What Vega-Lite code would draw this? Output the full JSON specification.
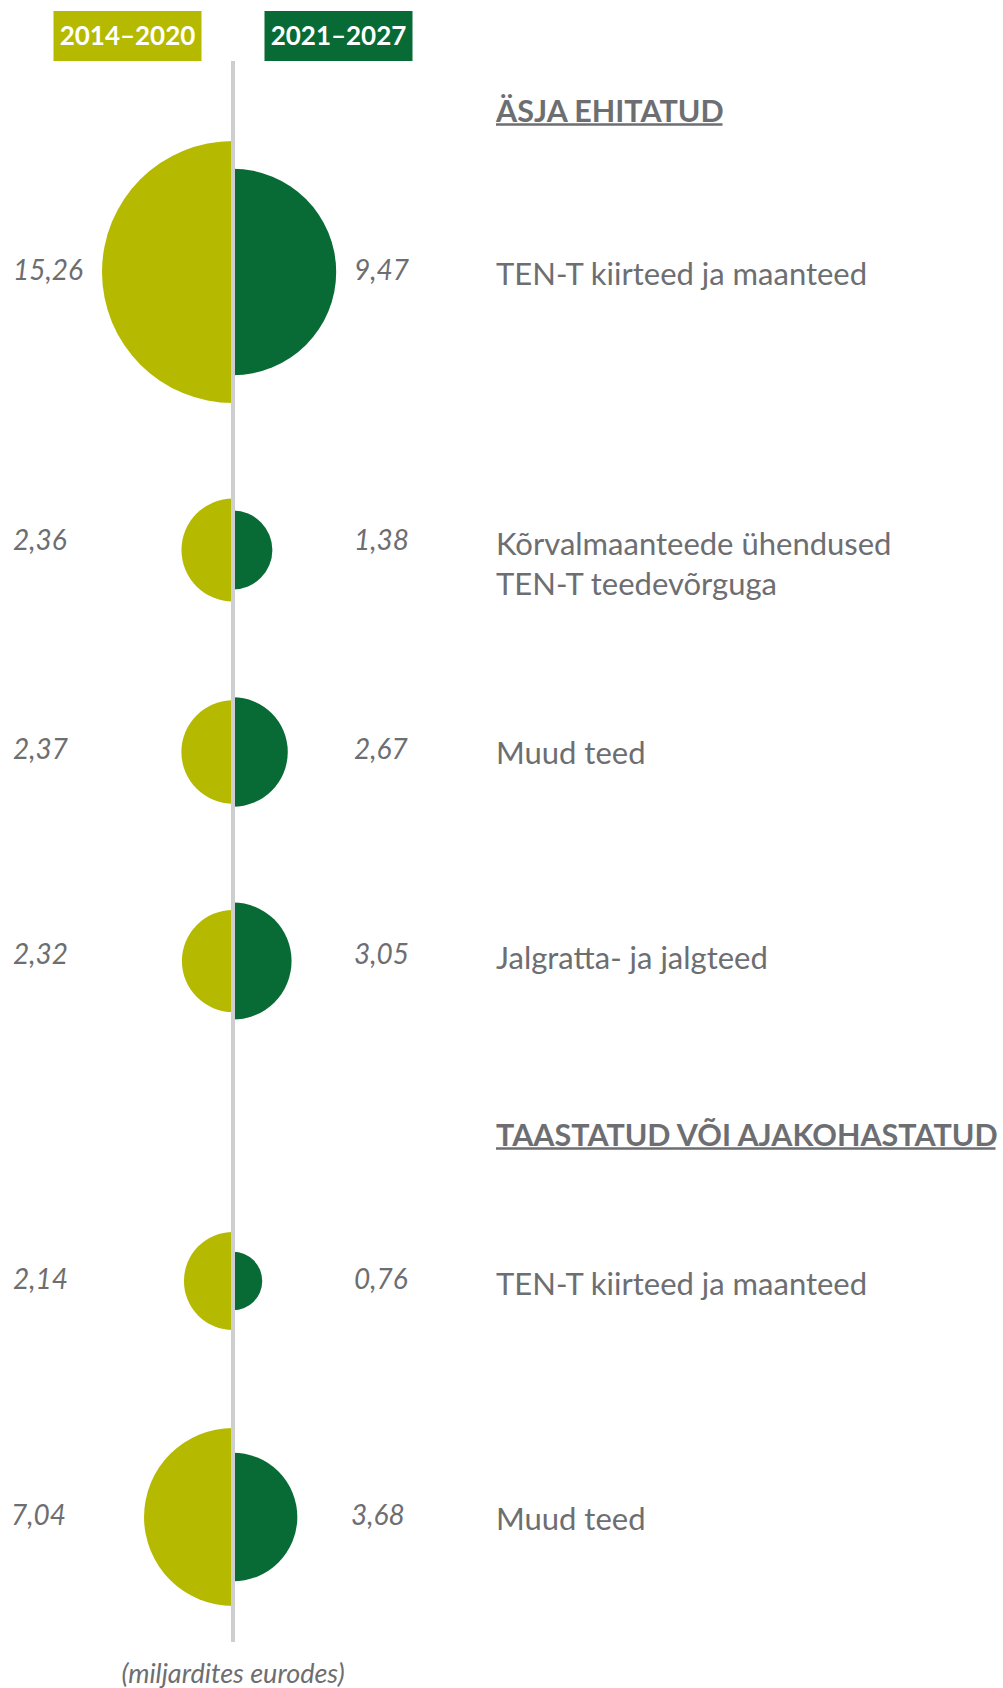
{
  "$schema": "https://vega.github.io/schema/vega-lite/v6.json",
  "background": "white",
  "padding": {"top": 11, "left": 0, "right": 0, "bottom": 0},
  "spacing": 0,
  "bounds": "flush",
  "datasets": {
    "eu": [
      {"section": "ÄSJA EHITATUD", "category": "TEN-T kiirteed ja maanteed", "period": "2014–2020", "value": 15.26},
      {"section": "ÄSJA EHITATUD", "category": "TEN-T kiirteed ja maanteed", "period": "2021–2027", "value": 9.47},
      {"section": "ÄSJA EHITATUD", "category": "Kõrvalmaanteede ühendused\nTEN-T teedevõrguga", "period": "2014–2020", "value": 2.36},
      {"section": "ÄSJA EHITATUD", "category": "Kõrvalmaanteede ühendused\nTEN-T teedevõrguga", "period": "2021–2027", "value": 1.38},
      {"section": "ÄSJA EHITATUD", "category": "Muud teed", "period": "2014–2020", "value": 2.37},
      {"section": "ÄSJA EHITATUD", "category": "Muud teed", "period": "2021–2027", "value": 2.67},
      {"section": "ÄSJA EHITATUD", "category": "Jalgratta- ja jalgteed", "period": "2014–2020", "value": 2.32},
      {"section": "ÄSJA EHITATUD", "category": "Jalgratta- ja jalgteed", "period": "2021–2027", "value": 3.05},
      {"section": "TAASTATUD VÕI AJAKOHASTATUD", "category": "TEN-T kiirteed ja maanteed", "period": "2014–2020", "value": 2.14},
      {"section": "TAASTATUD VÕI AJAKOHASTATUD", "category": "TEN-T kiirteed ja maanteed", "period": "2021–2027", "value": 0.76},
      {"section": "TAASTATUD VÕI AJAKOHASTATUD", "category": "Muud teed", "period": "2014–2020", "value": 7.04},
      {"section": "TAASTATUD VÕI AJAKOHASTATUD", "category": "Muud teed", "period": "2021–2027", "value": 3.68}
    ]
  },
  "data": {"name": "eu"},
  "vconcat": [
    {
      "width": 1003, "height": 50,
      "transform": [{"aggregate": [{"op": "count", "as": "n"}], "groupby": ["period"]}],
      "layer": [
        {"mark": {"type": "bar", "width": 148},
         "encoding": {
           "x": {"field": "period", "type": "nominal", "scale": {"type": "band", "domain": ["2014–2020", "2021–2027"], "range": [22, 444], "paddingInner": 0, "paddingOuter": 0}, "axis": null},
           "color": {"field": "period", "type": "nominal", "scale": {"domain": ["2014–2020", "2021–2027"], "range": ["#b5ba00", "#086a34"]}, "legend": null}}},
        {"mark": {"type": "text", "align": "center", "baseline": "middle", "dy": 1, "font": "Lato", "fontWeight": "bold", "fontSize": 26, "color": "white"},
         "encoding": {
           "x": {"field": "period", "type": "nominal", "scale": {"type": "band", "domain": ["2014–2020", "2021–2027"], "range": [22, 444], "paddingInner": 0, "paddingOuter": 0}, "axis": null},
           "text": {"field": "period"}}}
      ]
    },
    {
      "width": 1003, "height": 79,
      "transform": [{"filter": "datum.section == 'ÄSJA EHITATUD' && datum.period == '2021–2027'"}, {"aggregate": [{"op": "count", "as": "n"}], "groupby": ["section", "period"]}],
      "layer": [
        {"mark": {"type": "text", "align": "left", "baseline": "alphabetic", "dx": 52, "dy": 21.5, "font": "Lato", "fontWeight": "bold", "fontSize": 30.5, "color": "#6d6e71"},
         "encoding": {"x": {"field": "period", "type": "nominal", "bandPosition": 1, "scale": {"type": "band", "domain": ["2014–2020", "2021–2027"], "range": [22, 444], "paddingInner": 0, "paddingOuter": 0}, "axis": null},
           "text": {"field": "section"}}},
        {"mark": {"type": "rule", "color": "#6d6e71", "strokeWidth": 2.5, "xOffset": 52, "x2Offset": 384, "yOffset": 24},
         "encoding": {"x": {"field": "period", "type": "nominal", "bandPosition": 1, "scale": {"type": "band", "domain": ["2014–2020", "2021–2027"], "range": [22, 444], "paddingInner": 0, "paddingOuter": 0}, "axis": null},
           "x2": {"field": "period"}}},
        {"mark": {"type": "rule", "color": "#cdced0", "strokeWidth": 4},
         "encoding": {"x": {"field": "period", "type": "nominal", "bandPosition": 0, "scale": {"type": "band", "domain": ["2014–2020", "2021–2027"], "range": [22, 444], "paddingInner": 0, "paddingOuter": 0}, "axis": null}}}
      ]
    },
    {
      "width": 1003, "height": 264,
      "transform": [{"filter": "datum.section == 'ÄSJA EHITATUD' && datum.category == 'TEN-T kiirteed ja maanteed'"}],
      "layer": [
        {"transform": [{"filter": "datum.period == '2014–2020'"}],
         "mark": {"type": "arc", "theta": 3.14159265, "theta2": 6.28318531},
         "encoding": {"x": {"field": "period", "type": "nominal", "bandPosition": 1, "scale": {"type": "band", "domain": ["2014–2020", "2021–2027"], "range": [22, 444], "paddingInner": 0, "paddingOuter": 0}, "axis": null},
           "radius": {"field": "value", "type": "quantitative", "scale": {"type": "sqrt", "domain": [0, 15.26], "range": [0, 131]}},
           "color": {"field": "period", "type": "nominal", "scale": {"domain": ["2014–2020", "2021–2027"], "range": ["#b5ba00", "#086a34"]}, "legend": null}}},
        {"transform": [{"filter": "datum.period == '2021–2027'"}],
         "mark": {"type": "arc", "theta": 0, "theta2": 3.14159265},
         "encoding": {"x": {"field": "period", "type": "nominal", "bandPosition": 0, "scale": {"type": "band", "domain": ["2014–2020", "2021–2027"], "range": [22, 444], "paddingInner": 0, "paddingOuter": 0}, "axis": null},
           "radius": {"field": "value", "type": "quantitative", "scale": {"type": "sqrt", "domain": [0, 15.26], "range": [0, 131]}},
           "color": {"field": "period", "type": "nominal", "scale": {"domain": ["2014–2020", "2021–2027"], "range": ["#b5ba00", "#086a34"]}, "legend": null}}},
        {"transform": [{"filter": "datum.period == '2014–2020'"}],
         "mark": {"type": "text", "align": "left", "baseline": "middle", "dx": -9, "dy": 0, "font": "Lato", "fontStyle": "italic", "fontSize": 28, "color": "#6d6e71"},
         "encoding": {"x": {"field": "period", "type": "nominal", "bandPosition": 0, "scale": {"type": "band", "domain": ["2014–2020", "2021–2027"], "range": [22, 444], "paddingInner": 0, "paddingOuter": 0}, "axis": null},
           "text": {"field": "value", "type": "quantitative", "format": ".2f"}}},
        {"transform": [{"filter": "datum.period == '2021–2027'"}],
         "mark": {"type": "text", "align": "left", "baseline": "middle", "dx": 121, "dy": 0, "font": "Lato", "fontStyle": "italic", "fontSize": 28, "color": "#6d6e71"},
         "encoding": {"x": {"field": "period", "type": "nominal", "bandPosition": 0, "scale": {"type": "band", "domain": ["2014–2020", "2021–2027"], "range": [22, 444], "paddingInner": 0, "paddingOuter": 0}, "axis": null},
           "text": {"field": "value", "type": "quantitative", "format": ".2f"}}},
        {"transform": [{"filter": "datum.period == '2021–2027'"}],
         "mark": {"type": "text", "align": "left", "baseline": "middle", "dx": 52, "dy": 4, "lineBreak": "\n", "lineHeight": 40, "font": "Lato", "fontSize": 31, "color": "#6d6e71"},
         "encoding": {"x": {"field": "period", "type": "nominal", "bandPosition": 1, "scale": {"type": "band", "domain": ["2014–2020", "2021–2027"], "range": [22, 444], "paddingInner": 0, "paddingOuter": 0}, "axis": null},
           "text": {"field": "category"}}},
        {"transform": [{"filter": "datum.period == '2021–2027'"}],
         "mark": {"type": "rule", "color": "#cdced0", "strokeWidth": 4},
         "encoding": {"x": {"field": "period", "type": "nominal", "bandPosition": 0, "scale": {"type": "band", "domain": ["2014–2020", "2021–2027"], "range": [22, 444], "paddingInner": 0, "paddingOuter": 0}, "axis": null}}}
      ]
    },
    {
      "width": 1003, "height": 292,
      "transform": [{"filter": "datum.section == 'ÄSJA EHITATUD' && indexof(datum.category, 'Kõrvalmaanteede') == 0"}],
      "layer": [
        {"transform": [{"filter": "datum.period == '2014–2020'"}],
         "mark": {"type": "arc", "theta": 3.14159265, "theta2": 6.28318531},
         "encoding": {"x": {"field": "period", "type": "nominal", "bandPosition": 1, "scale": {"type": "band", "domain": ["2014–2020", "2021–2027"], "range": [22, 444], "paddingInner": 0, "paddingOuter": 0}, "axis": null},
           "radius": {"field": "value", "type": "quantitative", "scale": {"type": "sqrt", "domain": [0, 15.26], "range": [0, 131]}},
           "color": {"field": "period", "type": "nominal", "scale": {"domain": ["2014–2020", "2021–2027"], "range": ["#b5ba00", "#086a34"]}, "legend": null}}},
        {"transform": [{"filter": "datum.period == '2021–2027'"}],
         "mark": {"type": "arc", "theta": 0, "theta2": 3.14159265},
         "encoding": {"x": {"field": "period", "type": "nominal", "bandPosition": 0, "scale": {"type": "band", "domain": ["2014–2020", "2021–2027"], "range": [22, 444], "paddingInner": 0, "paddingOuter": 0}, "axis": null},
           "radius": {"field": "value", "type": "quantitative", "scale": {"type": "sqrt", "domain": [0, 15.26], "range": [0, 131]}},
           "color": {"field": "period", "type": "nominal", "scale": {"domain": ["2014–2020", "2021–2027"], "range": ["#b5ba00", "#086a34"]}, "legend": null}}},
        {"transform": [{"filter": "datum.period == '2014–2020'"}],
         "mark": {"type": "text", "align": "left", "baseline": "middle", "dx": -9, "dy": -8, "font": "Lato", "fontStyle": "italic", "fontSize": 28, "color": "#6d6e71"},
         "encoding": {"x": {"field": "period", "type": "nominal", "bandPosition": 0, "scale": {"type": "band", "domain": ["2014–2020", "2021–2027"], "range": [22, 444], "paddingInner": 0, "paddingOuter": 0}, "axis": null},
           "text": {"field": "value", "type": "quantitative", "format": ".2f"}}},
        {"transform": [{"filter": "datum.period == '2021–2027'"}],
         "mark": {"type": "text", "align": "left", "baseline": "middle", "dx": 121, "dy": -8, "font": "Lato", "fontStyle": "italic", "fontSize": 28, "color": "#6d6e71"},
         "encoding": {"x": {"field": "period", "type": "nominal", "bandPosition": 0, "scale": {"type": "band", "domain": ["2014–2020", "2021–2027"], "range": [22, 444], "paddingInner": 0, "paddingOuter": 0}, "axis": null},
           "text": {"field": "value", "type": "quantitative", "format": ".2f"}}},
        {"transform": [{"filter": "datum.period == '2021–2027'"}],
         "mark": {"type": "text", "align": "left", "baseline": "middle", "dx": 52, "dy": -4, "lineBreak": "\n", "lineHeight": 40, "font": "Lato", "fontSize": 31, "color": "#6d6e71"},
         "encoding": {"x": {"field": "period", "type": "nominal", "bandPosition": 1, "scale": {"type": "band", "domain": ["2014–2020", "2021–2027"], "range": [22, 444], "paddingInner": 0, "paddingOuter": 0}, "axis": null},
           "text": {"field": "category"}}},
        {"transform": [{"filter": "datum.period == '2021–2027'"}],
         "mark": {"type": "rule", "color": "#cdced0", "strokeWidth": 4},
         "encoding": {"x": {"field": "period", "type": "nominal", "bandPosition": 0, "scale": {"type": "band", "domain": ["2014–2020", "2021–2027"], "range": [22, 444], "paddingInner": 0, "paddingOuter": 0}, "axis": null}}}
      ]
    },
    {
      "width": 1003, "height": 112,
      "transform": [{"filter": "datum.section == 'ÄSJA EHITATUD' && datum.category == 'Muud teed'"}],
      "layer": [
        {"transform": [{"filter": "datum.period == '2014–2020'"}],
         "mark": {"type": "arc", "theta": 3.14159265, "theta2": 6.28318531},
         "encoding": {"x": {"field": "period", "type": "nominal", "bandPosition": 1, "scale": {"type": "band", "domain": ["2014–2020", "2021–2027"], "range": [22, 444], "paddingInner": 0, "paddingOuter": 0}, "axis": null},
           "radius": {"field": "value", "type": "quantitative", "scale": {"type": "sqrt", "domain": [0, 15.26], "range": [0, 131]}},
           "color": {"field": "period", "type": "nominal", "scale": {"domain": ["2014–2020", "2021–2027"], "range": ["#b5ba00", "#086a34"]}, "legend": null}}},
        {"transform": [{"filter": "datum.period == '2021–2027'"}],
         "mark": {"type": "arc", "theta": 0, "theta2": 3.14159265},
         "encoding": {"x": {"field": "period", "type": "nominal", "bandPosition": 0, "scale": {"type": "band", "domain": ["2014–2020", "2021–2027"], "range": [22, 444], "paddingInner": 0, "paddingOuter": 0}, "axis": null},
           "radius": {"field": "value", "type": "quantitative", "scale": {"type": "sqrt", "domain": [0, 15.26], "range": [0, 131]}},
           "color": {"field": "period", "type": "nominal", "scale": {"domain": ["2014–2020", "2021–2027"], "range": ["#b5ba00", "#086a34"]}, "legend": null}}},
        {"transform": [{"filter": "datum.period == '2014–2020'"}],
         "mark": {"type": "text", "align": "left", "baseline": "middle", "dx": -9, "dy": -1, "font": "Lato", "fontStyle": "italic", "fontSize": 28, "color": "#6d6e71"},
         "encoding": {"x": {"field": "period", "type": "nominal", "bandPosition": 0, "scale": {"type": "band", "domain": ["2014–2020", "2021–2027"], "range": [22, 444], "paddingInner": 0, "paddingOuter": 0}, "axis": null},
           "text": {"field": "value", "type": "quantitative", "format": ".2f"}}},
        {"transform": [{"filter": "datum.period == '2021–2027'"}],
         "mark": {"type": "text", "align": "left", "baseline": "middle", "dx": 121, "dy": -1, "font": "Lato", "fontStyle": "italic", "fontSize": 28, "color": "#6d6e71"},
         "encoding": {"x": {"field": "period", "type": "nominal", "bandPosition": 0, "scale": {"type": "band", "domain": ["2014–2020", "2021–2027"], "range": [22, 444], "paddingInner": 0, "paddingOuter": 0}, "axis": null},
           "text": {"field": "value", "type": "quantitative", "format": ".2f"}}},
        {"transform": [{"filter": "datum.period == '2021–2027'"}],
         "mark": {"type": "text", "align": "left", "baseline": "middle", "dx": 52, "dy": 3, "lineBreak": "\n", "lineHeight": 40, "font": "Lato", "fontSize": 31, "color": "#6d6e71"},
         "encoding": {"x": {"field": "period", "type": "nominal", "bandPosition": 1, "scale": {"type": "band", "domain": ["2014–2020", "2021–2027"], "range": [22, 444], "paddingInner": 0, "paddingOuter": 0}, "axis": null},
           "text": {"field": "category"}}},
        {"transform": [{"filter": "datum.period == '2021–2027'"}],
         "mark": {"type": "rule", "color": "#cdced0", "strokeWidth": 4},
         "encoding": {"x": {"field": "period", "type": "nominal", "bandPosition": 0, "scale": {"type": "band", "domain": ["2014–2020", "2021–2027"], "range": [22, 444], "paddingInner": 0, "paddingOuter": 0}, "axis": null}}}
      ]
    },
    {
      "width": 1003, "height": 306,
      "transform": [{"filter": "datum.section == 'ÄSJA EHITATUD' && datum.category == 'Jalgratta- ja jalgteed'"}],
      "layer": [
        {"transform": [{"filter": "datum.period == '2014–2020'"}],
         "mark": {"type": "arc", "theta": 3.14159265, "theta2": 6.28318531},
         "encoding": {"x": {"field": "period", "type": "nominal", "bandPosition": 1, "scale": {"type": "band", "domain": ["2014–2020", "2021–2027"], "range": [22, 444], "paddingInner": 0, "paddingOuter": 0}, "axis": null},
           "radius": {"field": "value", "type": "quantitative", "scale": {"type": "sqrt", "domain": [0, 15.26], "range": [0, 131]}},
           "color": {"field": "period", "type": "nominal", "scale": {"domain": ["2014–2020", "2021–2027"], "range": ["#b5ba00", "#086a34"]}, "legend": null}}},
        {"transform": [{"filter": "datum.period == '2021–2027'"}],
         "mark": {"type": "arc", "theta": 0, "theta2": 3.14159265},
         "encoding": {"x": {"field": "period", "type": "nominal", "bandPosition": 0, "scale": {"type": "band", "domain": ["2014–2020", "2021–2027"], "range": [22, 444], "paddingInner": 0, "paddingOuter": 0}, "axis": null},
           "radius": {"field": "value", "type": "quantitative", "scale": {"type": "sqrt", "domain": [0, 15.26], "range": [0, 131]}},
           "color": {"field": "period", "type": "nominal", "scale": {"domain": ["2014–2020", "2021–2027"], "range": ["#b5ba00", "#086a34"]}, "legend": null}}},
        {"transform": [{"filter": "datum.period == '2014–2020'"}],
         "mark": {"type": "text", "align": "left", "baseline": "middle", "dx": -9, "dy": -5, "font": "Lato", "fontStyle": "italic", "fontSize": 28, "color": "#6d6e71"},
         "encoding": {"x": {"field": "period", "type": "nominal", "bandPosition": 0, "scale": {"type": "band", "domain": ["2014–2020", "2021–2027"], "range": [22, 444], "paddingInner": 0, "paddingOuter": 0}, "axis": null},
           "text": {"field": "value", "type": "quantitative", "format": ".2f"}}},
        {"transform": [{"filter": "datum.period == '2021–2027'"}],
         "mark": {"type": "text", "align": "left", "baseline": "middle", "dx": 121, "dy": -5, "font": "Lato", "fontStyle": "italic", "fontSize": 28, "color": "#6d6e71"},
         "encoding": {"x": {"field": "period", "type": "nominal", "bandPosition": 0, "scale": {"type": "band", "domain": ["2014–2020", "2021–2027"], "range": [22, 444], "paddingInner": 0, "paddingOuter": 0}, "axis": null},
           "text": {"field": "value", "type": "quantitative", "format": ".2f"}}},
        {"transform": [{"filter": "datum.period == '2021–2027'"}],
         "mark": {"type": "text", "align": "left", "baseline": "middle", "dx": 52, "dy": -1, "lineBreak": "\n", "lineHeight": 40, "font": "Lato", "fontSize": 31, "color": "#6d6e71"},
         "encoding": {"x": {"field": "period", "type": "nominal", "bandPosition": 1, "scale": {"type": "band", "domain": ["2014–2020", "2021–2027"], "range": [22, 444], "paddingInner": 0, "paddingOuter": 0}, "axis": null},
           "text": {"field": "category"}}},
        {"transform": [{"filter": "datum.period == '2021–2027'"}],
         "mark": {"type": "rule", "color": "#cdced0", "strokeWidth": 4},
         "encoding": {"x": {"field": "period", "type": "nominal", "bandPosition": 0, "scale": {"type": "band", "domain": ["2014–2020", "2021–2027"], "range": [22, 444], "paddingInner": 0, "paddingOuter": 0}, "axis": null}}}
      ]
    },
    {
      "width": 1003, "height": 56,
      "transform": [{"filter": "datum.section == 'TAASTATUD VÕI AJAKOHASTATUD' && datum.period == '2021–2027'"}, {"aggregate": [{"op": "count", "as": "n"}], "groupby": ["section", "period"]}],
      "layer": [
        {"mark": {"type": "text", "align": "left", "baseline": "alphabetic", "dx": 52, "dy": 4, "font": "Lato", "fontWeight": "bold", "fontSize": 30.5, "color": "#6d6e71"},
         "encoding": {"x": {"field": "period", "type": "nominal", "bandPosition": 1, "scale": {"type": "band", "domain": ["2014–2020", "2021–2027"], "range": [22, 444], "paddingInner": 0, "paddingOuter": 0}, "axis": null},
           "text": {"field": "section"}}},
        {"mark": {"type": "rule", "color": "#6d6e71", "strokeWidth": 2.5, "xOffset": 52, "x2Offset": 657, "yOffset": 6.5},
         "encoding": {"x": {"field": "period", "type": "nominal", "bandPosition": 1, "scale": {"type": "band", "domain": ["2014–2020", "2021–2027"], "range": [22, 444], "paddingInner": 0, "paddingOuter": 0}, "axis": null},
           "x2": {"field": "period"}}},
        {"mark": {"type": "rule", "color": "#cdced0", "strokeWidth": 4},
         "encoding": {"x": {"field": "period", "type": "nominal", "bandPosition": 0, "scale": {"type": "band", "domain": ["2014–2020", "2021–2027"], "range": [22, 444], "paddingInner": 0, "paddingOuter": 0}, "axis": null}}}
      ]
    },
    {
      "width": 1003, "height": 222,
      "transform": [{"filter": "datum.section == 'TAASTATUD VÕI AJAKOHASTATUD' && datum.category == 'TEN-T kiirteed ja maanteed'"}],
      "layer": [
        {"transform": [{"filter": "datum.period == '2014–2020'"}],
         "mark": {"type": "arc", "theta": 3.14159265, "theta2": 6.28318531},
         "encoding": {"x": {"field": "period", "type": "nominal", "bandPosition": 1, "scale": {"type": "band", "domain": ["2014–2020", "2021–2027"], "range": [22, 444], "paddingInner": 0, "paddingOuter": 0}, "axis": null},
           "radius": {"field": "value", "type": "quantitative", "scale": {"type": "sqrt", "domain": [0, 15.26], "range": [0, 131]}},
           "color": {"field": "period", "type": "nominal", "scale": {"domain": ["2014–2020", "2021–2027"], "range": ["#b5ba00", "#086a34"]}, "legend": null}}},
        {"transform": [{"filter": "datum.period == '2021–2027'"}],
         "mark": {"type": "arc", "theta": 0, "theta2": 3.14159265},
         "encoding": {"x": {"field": "period", "type": "nominal", "bandPosition": 0, "scale": {"type": "band", "domain": ["2014–2020", "2021–2027"], "range": [22, 444], "paddingInner": 0, "paddingOuter": 0}, "axis": null},
           "radius": {"field": "value", "type": "quantitative", "scale": {"type": "sqrt", "domain": [0, 15.26], "range": [0, 131]}},
           "color": {"field": "period", "type": "nominal", "scale": {"domain": ["2014–2020", "2021–2027"], "range": ["#b5ba00", "#086a34"]}, "legend": null}}},
        {"transform": [{"filter": "datum.period == '2014–2020'"}],
         "mark": {"type": "text", "align": "left", "baseline": "middle", "dx": -9, "dy": 0, "font": "Lato", "fontStyle": "italic", "fontSize": 28, "color": "#6d6e71"},
         "encoding": {"x": {"field": "period", "type": "nominal", "bandPosition": 0, "scale": {"type": "band", "domain": ["2014–2020", "2021–2027"], "range": [22, 444], "paddingInner": 0, "paddingOuter": 0}, "axis": null},
           "text": {"field": "value", "type": "quantitative", "format": ".2f"}}},
        {"transform": [{"filter": "datum.period == '2021–2027'"}],
         "mark": {"type": "text", "align": "left", "baseline": "middle", "dx": 121, "dy": 0, "font": "Lato", "fontStyle": "italic", "fontSize": 28, "color": "#6d6e71"},
         "encoding": {"x": {"field": "period", "type": "nominal", "bandPosition": 0, "scale": {"type": "band", "domain": ["2014–2020", "2021–2027"], "range": [22, 444], "paddingInner": 0, "paddingOuter": 0}, "axis": null},
           "text": {"field": "value", "type": "quantitative", "format": ".2f"}}},
        {"transform": [{"filter": "datum.period == '2021–2027'"}],
         "mark": {"type": "text", "align": "left", "baseline": "middle", "dx": 52, "dy": 5, "lineBreak": "\n", "lineHeight": 40, "font": "Lato", "fontSize": 31, "color": "#6d6e71"},
         "encoding": {"x": {"field": "period", "type": "nominal", "bandPosition": 1, "scale": {"type": "band", "domain": ["2014–2020", "2021–2027"], "range": [22, 444], "paddingInner": 0, "paddingOuter": 0}, "axis": null},
           "text": {"field": "category"}}},
        {"transform": [{"filter": "datum.period == '2021–2027'"}],
         "mark": {"type": "rule", "color": "#cdced0", "strokeWidth": 4},
         "encoding": {"x": {"field": "period", "type": "nominal", "bandPosition": 0, "scale": {"type": "band", "domain": ["2014–2020", "2021–2027"], "range": [22, 444], "paddingInner": 0, "paddingOuter": 0}, "axis": null}}}
      ]
    },
    {
      "width": 1003, "height": 250,
      "transform": [{"filter": "datum.section == 'TAASTATUD VÕI AJAKOHASTATUD' && datum.category == 'Muud teed'"}],
      "layer": [
        {"transform": [{"filter": "datum.period == '2014–2020'"}],
         "mark": {"type": "arc", "theta": 3.14159265, "theta2": 6.28318531},
         "encoding": {"x": {"field": "period", "type": "nominal", "bandPosition": 1, "scale": {"type": "band", "domain": ["2014–2020", "2021–2027"], "range": [22, 444], "paddingInner": 0, "paddingOuter": 0}, "axis": null},
           "radius": {"field": "value", "type": "quantitative", "scale": {"type": "sqrt", "domain": [0, 15.26], "range": [0, 131]}},
           "color": {"field": "period", "type": "nominal", "scale": {"domain": ["2014–2020", "2021–2027"], "range": ["#b5ba00", "#086a34"]}, "legend": null}}},
        {"transform": [{"filter": "datum.period == '2021–2027'"}],
         "mark": {"type": "arc", "theta": 0, "theta2": 3.14159265},
         "encoding": {"x": {"field": "period", "type": "nominal", "bandPosition": 0, "scale": {"type": "band", "domain": ["2014–2020", "2021–2027"], "range": [22, 444], "paddingInner": 0, "paddingOuter": 0}, "axis": null},
           "radius": {"field": "value", "type": "quantitative", "scale": {"type": "sqrt", "domain": [0, 15.26], "range": [0, 131]}},
           "color": {"field": "period", "type": "nominal", "scale": {"domain": ["2014–2020", "2021–2027"], "range": ["#b5ba00", "#086a34"]}, "legend": null}}},
        {"transform": [{"filter": "datum.period == '2014–2020'"}],
         "mark": {"type": "text", "align": "left", "baseline": "middle", "dx": -11, "dy": 0, "font": "Lato", "fontStyle": "italic", "fontSize": 28, "color": "#6d6e71"},
         "encoding": {"x": {"field": "period", "type": "nominal", "bandPosition": 0, "scale": {"type": "band", "domain": ["2014–2020", "2021–2027"], "range": [22, 444], "paddingInner": 0, "paddingOuter": 0}, "axis": null},
           "text": {"field": "value", "type": "quantitative", "format": ".2f"}}},
        {"transform": [{"filter": "datum.period == '2021–2027'"}],
         "mark": {"type": "text", "align": "left", "baseline": "middle", "dx": 118, "dy": 0, "font": "Lato", "fontStyle": "italic", "fontSize": 28, "color": "#6d6e71"},
         "encoding": {"x": {"field": "period", "type": "nominal", "bandPosition": 0, "scale": {"type": "band", "domain": ["2014–2020", "2021–2027"], "range": [22, 444], "paddingInner": 0, "paddingOuter": 0}, "axis": null},
           "text": {"field": "value", "type": "quantitative", "format": ".2f"}}},
        {"transform": [{"filter": "datum.period == '2021–2027'"}],
         "mark": {"type": "text", "align": "left", "baseline": "middle", "dx": 52, "dy": 4, "lineBreak": "\n", "lineHeight": 40, "font": "Lato", "fontSize": 31, "color": "#6d6e71"},
         "encoding": {"x": {"field": "period", "type": "nominal", "bandPosition": 1, "scale": {"type": "band", "domain": ["2014–2020", "2021–2027"], "range": [22, 444], "paddingInner": 0, "paddingOuter": 0}, "axis": null},
           "text": {"field": "category"}}},
        {"transform": [{"filter": "datum.period == '2021–2027'"}],
         "mark": {"type": "rule", "color": "#cdced0", "strokeWidth": 4},
         "encoding": {"x": {"field": "period", "type": "nominal", "bandPosition": 0, "scale": {"type": "band", "domain": ["2014–2020", "2021–2027"], "range": [22, 444], "paddingInner": 0, "paddingOuter": 0}, "axis": null}}}
      ]
    },
    {
      "width": 1003, "height": 46,
      "transform": [{"filter": "datum.period == '2014–2020'"}, {"aggregate": [{"op": "count", "as": "n"}], "groupby": ["period"]}],
      "mark": {"type": "text", "align": "center", "baseline": "middle", "dy": 10, "font": "Lato", "fontStyle": "italic", "fontSize": 27, "color": "#6d6e71"},
      "encoding": {"x": {"field": "period", "type": "nominal", "bandPosition": 1, "scale": {"type": "band", "domain": ["2014–2020", "2021–2027"], "range": [22, 444], "paddingInner": 0, "paddingOuter": 0}, "axis": null},
        "text": {"value": "(miljardites eurodes)"}}
    }
  ],
  "config": {
    "view": {"stroke": null},
    "locale": {"number": {"decimal": ",", "thousands": " ", "grouping": [3], "currency": ["", " €"]}}
  }
}
